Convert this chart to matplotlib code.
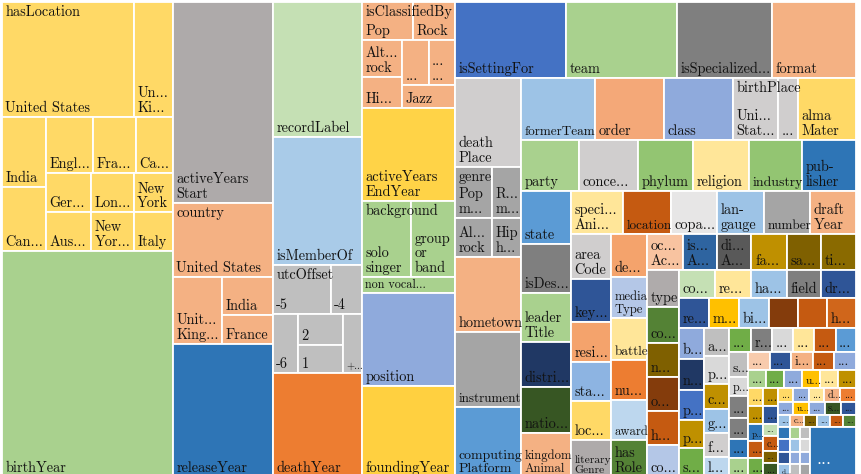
import matplotlib.pyplot as plt
from matplotlib.patches import Rectangle

plt.rcParams["font.family"] = ["cmr10", "DejaVu Serif"]

# ---- grouped cells (children of a top-level cell) --------------------------
location_labels = ["United States", "Un...\nKi...", "India", "Can...", "Engl...", "Fra...",
                   "Ca...", "Ger...", "Aus...", "Lon...", "New\nYor...", "New\nYork", "Italy"]
location_values = [15180, 4485, 3080, 2772, 2632, 2408, 2072, 1755, 1710, 1677, 1634, 1521, 1482]

country_labels = ["United States", "Unit...\nKing...", "India", "France"]
country_values = [7400, 3283, 1938, 1479]

utc_labels = ["-5", "-4", "-6", "2", "1", "+..."]
utc_values = [2842, 1519, 1475, 1395, 1260, 1121]

classified_labels = ["Pop", "Rock", "Alt...\nrock", "Hi...", "...", "...\n...", "Jazz"]
classified_values = [1938, 1558, 1520, 1240, 1196, 1196, 1196]

background_labels = ["solo\nsinger", "group\nor\nband", "non vocal..."]
background_values = [3773, 3311, 1472]

genre_labels = ["Pop\nm...", "R...\nm...", "Al...\nrock", "Hip\nh..."]
genre_values = [1887, 1479, 1443, 1131]

birthplace_labels = ["Uni...\nStat...", "..."]
birthplace_values = [2790, 1240]

# ---- top-level cells, in layout order (None = size taken from the group) ---
left_labels = ["hasLocation", "birthYear",
               "activeYears\nStart", "country", "releaseYear",
               "recordLabel", "isMemberOf", "utcOffset", "deathYear",
               "isClassifiedBy", "activeYears\nEndYear", "background", "position", "foundingYear"]
left_values = [None, 38646,
               20100, None, 13300,
               12015, 11392, None, 9256,
               None, 8649, None, 8649, 8463]
left_colors = ["#ffd966", "#a9d18e",
               "#aeaaaa", "#f4b183", "#2e75b6",
               "#c5e0b4", "#a9cbe8", "#bfbfbf", "#ed7d31",
               "#f4b183", "#ffd347", "#a9d18e", "#8faadc", "#ffd040"]

mid_labels = ["isSettingFor", "team", "isSpecialized...", "format",
              "death\nPlace", "genre", "hometown", "instrument", "computing\nPlatform",
              "formerTeam", "order", "class", "birthPlace", "alma\nMater",
              "party", "conce...", "phylum", "religion", "industry", "pub-\nlisher",
              "state", "isDes...", "leader\nTitle", "distri...", "natio...", "kingdom\nAnimal",
              "speci...\nAni...", "location", "copa...", "lan-\ngauge", "number", "draft\nYear",
              "area\nCode", "key...", "resi...", "sta...", "loc...", "literary\nGenre",
              "de...", "media\nType", "battle", "nu...", "award", "has\nRole"]
mid_values = [8436, 8436, 7220, 6384,
              5874, None, 4950, 4950, 4620,
              4588, 4278, 4278, None, 3596,
              2958, 3009, 2805, 2856, 2703, 2754,
              2650, 2450, 2450, 2250, 2300, 2200,
              2236, 2064, 1978, 2021, 1978, 1978,
              1800, 1720, 1600, 1560, 1560, 1480,
              1548, 1476, 1512, 1440, 1440, 1332]
mid_colors = ["#4472c4", "#a9d18e", "#7f7f7f", "#f4b183",
              "#d0cece", "#a5a5a5", "#f4b183", "#a5a5a5", "#5b9bd5",
              "#9dc3e6", "#f4a878", "#8faadc", "#d0cece", "#ffd966",
              "#a9d18e", "#d0cece", "#93c572", "#ffe699", "#93c572", "#2e75b6",
              "#5b9bd5", "#7f7f7f", "#a9d18e", "#203864", "#375623", "#f4b183",
              "#ffe699", "#c55a11", "#e7e6e6", "#9dc3e6", "#a5a5a5", "#f4b183",
              "#d0cece", "#2f5597", "#f4a36c", "#8db4e2", "#ffd966", "#aeaaaa",
              "#f4a36c", "#b4c7e7", "#ffe699", "#ed7d31", "#bdd7ee", "#548235"]

small_labels = ["oc...\nAc...", "is...\nA...", "di...\nA...", "fa...", "sa...", "ti...",
                "type", "co...", "n...", "o...", "h...", "co...",
                "co...", "re...", "ha...", "field", "dr...",
                "re...", "m...", "bi...", "", "", "h...",
                "b...", "n...", "p...", "p...", "s...",
                "a...", "p...", "c...", "g...", "f...", "l..."]
small_values = [1296, 1224, 1224, 1260, 1224, 1260,
                1184, 1152, 1088, 1088, 1088, 1024,
                1008, 1008, 1008, 952, 980,
                900, 900, 900, 870, 870, 870,
                775, 775, 750, 700, 725,
                700, 700, 625, 600, 600, 500]
small_colors = ["#f8c3a0", "#2e64a0", "#595959", "#bf9000", "#7f6000", "#8a6a00",
                "#afabab", "#548235", "#7f6000", "#843c0c", "#c55a11", "#b4c7e7",
                "#c5e0b4", "#ffe699", "#9dc3e6", "#7f7f7f", "#2f5597",
                "#2f5597", "#ffc000", "#9dc3e6", "#843c0c", "#c55a11", "#d0661b",
                "#8faadc", "#203864", "#4472c4", "#bf9000", "#70ad47",
                "#bfbfbf", "#d9d9d9", "#bf9000", "#9dc3e6", "#d0cece", "#bdd7ee"]

tail_labels = ["...", "r...", "...", "...", "...", "...",
               "s...", "p...", "...", "...", "...", "...",
               "...", "...", "i...", "...", "...",
               "...", "...", "...", "u...", "...", "...",
               "...", "...", "p...", "...", "...",
               "...", "...", "...", "c...", "...", "...",
               "...", "...", "...", "d...", "...",
               "...", "u...", "...", "s...", "...",
               "...", "c...", "...", "...", "...", "...",
               "", "", "", "d...",
               "", "", "", "",
               "", "", "", "",
               "..."]
tail_values = [540, 500, 500, 500, 520, 488,
               475, 361, 418, 399, 361, 361,
               390, 390, 385, 390, 389,
               320, 330, 320, 330, 322, 322,
               270, 270, 255, 255, 285,
               270, 270, 180, 225, 180, 210,
               215, 220, 205, 232, 220,
               200, 205, 200, 210, 199,
               150, 160, 155, 155, 160, 156,
               150, 150, 150, 150,
               125, 125, 125, 125,
               125, 125, 125, 125,
               2300]
tail_colors = ["#70ad47", "#7f7f7f", "#d9d9d9", "#ffe699", "#c55a11", "#5b9bd5",
               "#bfbfbf", "#d9d9d9", "#7f7f7f", "#7f7f7f", "#2e75b6", "#a9d18e",
               "#f8cbad", "#2f5597", "#f4b183", "#c55a11", "#8faadc",
               "#a9d18e", "#70ad47", "#8faadc", "#ffc000", "#ffe699", "#bf9000",
               "#ffd966", "#bf9000", "#2e75b6", "#c55a11", "#70ad47",
               "#bf9000", "#2f5597", "#c5e0b4", "#c55a11", "#7f6000", "#385723",
               "#ffd966", "#8faadc", "#ffe699", "#f4b183", "#ed7d31",
               "#8faadc", "#ffc000", "#8faadc", "#375623", "#2f5597",
               "#9dc3e6", "#f4b183", "#7f6000", "#9dc3e6", "#c55a11", "#548235",
               "#2e75b6", "#4472c4", "#2f5597", "#9dc3e6",
               "#a9d18e", "#9dc3e6", "#8faadc", "#bfbfbf",
               "#bfbfbf", "#d9d9d9", "#8faadc", "#a5a5a5",
               "#2e75b6"]

# how each level is cut: (cells in the strip, "h" = row on top / "v" = column on left)
top_rows = [(2, "v"), (3, "v"), (4, "v"), (5, "v"), (4, "h"), (5, "v"), (5, "h"), (6, "h"),
            (6, "v"), (6, "h"), (6, "v"), (6, "v"), (6, "h"), (6, "v"), (5, "h"), (6, "h"),
            (5, "v"), (6, "v"), (6, "h"), (6, "v"), (5, "h"), (6, "h"), (5, "v"), (6, "v"),
            (5, "h"), (5, "h"), (6, "h"), (4, "v"), (4, "v"), (4, "v"), (1, "v")]

groups = {
    "hasLocation": (location_labels, location_values,
                    [(2, "h"), (2, "v"), (3, "h"), (2, "v"), (2, "v"), (2, "v")]),
    "country": (country_labels, country_values, [(1, "h"), (1, "v"), (2, "v")]),
    "utcOffset": (utc_labels, utc_values, [(2, "h"), (1, "v"), (2, "v"), (1, "v")]),
    "isClassifiedBy": (classified_labels, classified_values,
                       [(2, "h"), (2, "v"), (2, "h"), (1, "h")]),
    "background": (background_labels, background_values, [(2, "h"), (1, "h")]),
    "genre": (genre_labels, genre_values, [(2, "h"), (1, "v"), (1, "v")]),
    "birthPlace": (birthplace_labels, birthplace_values, [(1, "v"), (1, "v")]),
}


def squarify(values, rows, x, y, w, h):
    """Cuts the box (x, y, w, h) into strips of cells with areas ~ values."""
    scale = w * h / sum(values)
    rects, i = [], 0
    for count, direction in rows:
        chunk = values[i:i + count]
        strip = sum(chunk) * scale
        if direction == "h":
            rh = strip / w
            cx = x
            for v in chunk:
                cw = v * scale / rh
                rects.append((cx, y, cw, rh))
                cx += cw
            y += rh
            h -= rh
        else:
            cw = strip / h
            cy = y
            for v in chunk:
                ch = v * scale / cw
                rects.append((x, cy, cw, ch))
                cy += ch
            x += cw
            w -= cw
        i += count
    return rects


fig = plt.figure(figsize=(8.62, 4.74), dpi=100)
ax = fig.add_axes([0, 0, 1, 1])
ax.set_xlim(0, 862)
ax.set_ylim(474, 0)
ax.axis("off")
renderer = fig.canvas.get_renderer()

BASE = 10.3
TEXT = "#111111"


def leaf_label(text, x, y, w, h, color=TEXT, size=None):
    if not text:
        return
    size = size or min(BASE, 0.55 * h)
    t = ax.text(x + 3.5, y + h - 2, text, ha="left", va="bottom",
                fontsize=size, color=color, linespacing=1.1)
    # shrink the text until it fits the width of its cell
    while size > 5.5:
        if t.get_window_extent(renderer).width <= w - 2:
            break
        size -= 0.4
        t.set_fontsize(size)


labels = left_labels + mid_labels + small_labels + tail_labels
values = left_values + mid_values + small_values + tail_values
colors = left_colors + mid_colors + small_colors + tail_colors
sizes = [sum(groups[lab][1]) if v is None else v for lab, v in zip(labels, values)]

cells = squarify(sizes, top_rows, 2, 2, 854, 475)

for lab, col, (x, y, w, h) in zip(labels, colors, cells):
    if lab in groups:
        sub_labels, sub_values, sub_rows = groups[lab]
        for sub, (sx, sy, sw, sh) in zip(sub_labels, squarify(sub_values, sub_rows, x, y, w, h)):
            ax.add_patch(Rectangle((sx, sy), sw, sh, facecolor=col,
                                   edgecolor="white", linewidth=1.3))
            leaf_label(sub, sx, sy, sw, sh)
        ax.text(x + 4, y + 3, lab, ha="left", va="top", fontsize=BASE, color=TEXT)
    else:
        ax.add_patch(Rectangle((x, y), w, h, facecolor=col,
                               edgecolor="white", linewidth=1.3))
        if (x, y, w, h) == cells[-1]:
            leaf_label(lab, x + 3, y - 8, w, h, color="white", size=13)
        else:
            leaf_label(lab, x, y, w, h)

fig.savefig("out.png", dpi=100)
